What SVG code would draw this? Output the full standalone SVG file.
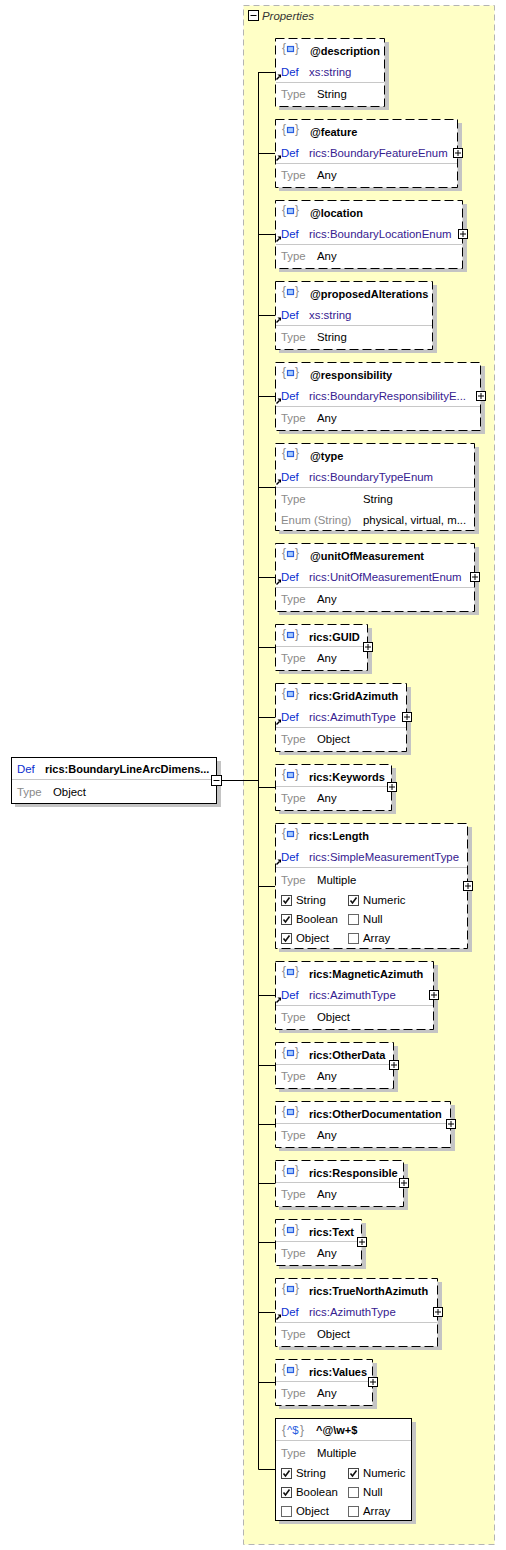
<svg xmlns="http://www.w3.org/2000/svg" xmlns:xlink="http://www.w3.org/1999/xlink" width="506" height="1550" viewBox="0 0 506 1550">
<style>
text{font-family:"Liberation Sans",Arial,sans-serif;font-size:11.4px;}
.t{font-weight:bold;fill:#000;font-size:11px;}
.lbl{fill:#0a2fd0;}
.dv{fill:#35208f;}
.gl{fill:#8a8a8a;}
.v{fill:#000;}
.sh{fill:#c4c4c4;}
.bx{fill:#fff;stroke:#000;stroke-width:1;stroke-dasharray:9,4;}
.bs{fill:#fff;stroke:#000;stroke-width:1;}
.sep{stroke:#c8c8c8;stroke-width:1;}
.con line,.con path{stroke:#000;stroke-width:1;fill:none;}
.brace{fill:#8a8a8a;font-size:12px;}
</style>
<defs>
<g id="ico">
<text class="brace" x="0" y="14">{</text>
<rect x="5.5" y="8.5" width="6" height="5" fill="#a8ccff" stroke="#2a5ee0" stroke-width="1.2"/>
<text class="brace" x="13" y="14">}</text>
</g>
<g id="arr">
<path d="M1.5 5.5 L4.5 2.5" stroke="#000" stroke-width="1.5"/>
<polygon points="2.5,0.5 6,0.5 6,4" fill="#000"/>
</g>
<g id="plus">
<rect x="0.5" y="0.5" width="9" height="9" fill="#fff" stroke="#000"/>
<path d="M2 5 H8 M5 2 V8" stroke="#000"/>
</g>
<g id="cbon">
<rect x="0.5" y="0.5" width="10" height="10" fill="#fff" stroke="#444"/>
<path d="M2.5 5.5 L4.5 8 L8.5 2.5" stroke="#111" stroke-width="1.6" fill="none"/>
</g>
<g id="cboff">
<rect x="0.5" y="0.5" width="10" height="10" fill="#fff" stroke="#666"/>
</g>
</defs>

<g id="properties">
<rect x="243.5" y="5.5" width="251" height="1539" fill="#ffffc6" stroke="#b4b4b4" stroke-dasharray="6,4"/>
<rect x="248.5" y="10.5" width="10" height="10" fill="#fff" stroke="#000"/>
<path d="M250.5 15.5 H256.5" stroke="#000"/>
<text x="262" y="20" font-style="italic" fill="#333">Properties</text>
</g>

<g id="connectors" class="con">
<line x1="222" y1="780.5" x2="258.5" y2="780.5"/>
<line x1="258.5" y1="72" x2="258.5" y2="1469.5"/>
<line x1="258.5" y1="72.5" x2="275" y2="72.5"/>
<line x1="258.5" y1="153.5" x2="275" y2="153.5"/>
<line x1="258.5" y1="234.5" x2="275" y2="234.5"/>
<line x1="258.5" y1="315.5" x2="275" y2="315.5"/>
<line x1="258.5" y1="396.5" x2="275" y2="396.5"/>
<line x1="258.5" y1="487.5" x2="275" y2="487.5"/>
<line x1="258.5" y1="577.5" x2="275" y2="577.5"/>
<line x1="258.5" y1="647.5" x2="275" y2="647.5"/>
<line x1="258.5" y1="717.5" x2="275" y2="717.5"/>
<line x1="258.5" y1="787.5" x2="275" y2="787.5"/>
<line x1="258.5" y1="886.5" x2="275" y2="886.5"/>
<line x1="258.5" y1="995.5" x2="275" y2="995.5"/>
<line x1="258.5" y1="1065.5" x2="275" y2="1065.5"/>
<line x1="258.5" y1="1124.5" x2="275" y2="1124.5"/>
<line x1="258.5" y1="1183.5" x2="275" y2="1183.5"/>
<line x1="258.5" y1="1242.5" x2="275" y2="1242.5"/>
<line x1="258.5" y1="1312.5" x2="275" y2="1312.5"/>
<line x1="258.5" y1="1382.5" x2="275" y2="1382.5"/>
<line x1="258.5" y1="1469.5" x2="275" y2="1469.5"/>
</g>

<g id="root">
<rect class="sh" x="15" y="761" width="206" height="46"/>
<rect class="bs" x="11.5" y="757.5" width="205" height="46"/>
<line class="sep" x1="12" y1="779.5" x2="216" y2="779.5"/>
<text class="lbl" x="17" y="773">Def</text>
<text class="t" x="45" y="773">rics:BoundaryLineArcDimens...</text>
<text class="gl" x="17" y="796">Type</text>
<text class="v" x="53" y="796">Object</text>
<rect x="211.5" y="775.5" width="10" height="10" fill="#fff" stroke="#000"/>
<path d="M213.5 780.5 H219.5" stroke="#000"/>
</g>

<g id="n-description">
<rect class="sh" x="279" y="42" width="110" height="68"/>
<rect class="bx" x="275.5" y="38.5" width="109" height="68"/>
<use xlink:href="#ico" x="282" y="38"/>
<text class="t" x="310" y="55">@description</text>
<use xlink:href="#arr" x="275" y="74"/>
<text class="lbl" x="281" y="76">Def</text>
<text class="dv" x="309" y="76">xs:string</text>
<line class="sep" x1="276" y1="82.5" x2="384" y2="82.5"/>
<text class="gl" x="281" y="98">Type</text>
<text class="v" x="317" y="98">String</text>
</g>

<g id="n-feature">
<rect class="sh" x="279" y="123" width="183" height="68"/>
<rect class="bx" x="275.5" y="119.5" width="182" height="68"/>
<use xlink:href="#ico" x="282" y="119"/>
<text class="t" x="310" y="136">@feature</text>
<use xlink:href="#arr" x="275" y="155"/>
<text class="lbl" x="281" y="157">Def</text>
<text class="dv" x="309" y="157">rics:BoundaryFeatureEnum</text>
<line class="sep" x1="276" y1="163.5" x2="457" y2="163.5"/>
<text class="gl" x="281" y="179">Type</text>
<text class="v" x="317" y="179">Any</text>
<use xlink:href="#plus" x="453" y="148"/>
</g>

<g id="n-location">
<rect class="sh" x="279" y="204" width="188" height="68"/>
<rect class="bx" x="275.5" y="200.5" width="187" height="68"/>
<use xlink:href="#ico" x="282" y="200"/>
<text class="t" x="310" y="217">@location</text>
<use xlink:href="#arr" x="275" y="236"/>
<text class="lbl" x="281" y="238">Def</text>
<text class="dv" x="309" y="238">rics:BoundaryLocationEnum</text>
<line class="sep" x1="276" y1="244.5" x2="462" y2="244.5"/>
<text class="gl" x="281" y="260">Type</text>
<text class="v" x="317" y="260">Any</text>
<use xlink:href="#plus" x="458" y="229"/>
</g>

<g id="n-proposedAlterations">
<rect class="sh" x="279" y="285" width="158" height="68"/>
<rect class="bx" x="275.5" y="281.5" width="157" height="68"/>
<use xlink:href="#ico" x="282" y="281"/>
<text class="t" x="310" y="298">@proposedAlterations</text>
<use xlink:href="#arr" x="275" y="317"/>
<text class="lbl" x="281" y="319">Def</text>
<text class="dv" x="309" y="319">xs:string</text>
<line class="sep" x1="276" y1="325.5" x2="432" y2="325.5"/>
<text class="gl" x="281" y="341">Type</text>
<text class="v" x="317" y="341">String</text>
</g>

<g id="n-responsibility">
<rect class="sh" x="279" y="366" width="206" height="68"/>
<rect class="bx" x="275.5" y="362.5" width="205" height="68"/>
<use xlink:href="#ico" x="282" y="362"/>
<text class="t" x="310" y="379">@responsibility</text>
<use xlink:href="#arr" x="275" y="398"/>
<text class="lbl" x="281" y="400">Def</text>
<text class="dv" x="309" y="400">rics:BoundaryResponsibilityE...</text>
<line class="sep" x1="276" y1="406.5" x2="480" y2="406.5"/>
<text class="gl" x="281" y="422">Type</text>
<text class="v" x="317" y="422">Any</text>
<use xlink:href="#plus" x="476" y="391"/>
</g>

<g id="n-type">
<rect class="sh" x="279" y="447" width="200" height="87"/>
<rect class="bx" x="275.5" y="443.5" width="199" height="87"/>
<use xlink:href="#ico" x="282" y="443"/>
<text class="t" x="310" y="460">@type</text>
<use xlink:href="#arr" x="275" y="479"/>
<text class="lbl" x="281" y="481">Def</text>
<text class="dv" x="309" y="481">rics:BoundaryTypeEnum</text>
<line class="sep" x1="276" y1="487.5" x2="474" y2="487.5"/>
<text class="gl" x="281" y="503">Type</text>
<text class="v" x="363" y="503">String</text>
<text class="gl" x="281" y="524">Enum (String)</text>
<text class="v" x="363" y="524">physical, virtual, m...</text>
</g>

<g id="n-unitOfMeasurement">
<rect class="sh" x="279" y="547" width="200" height="68"/>
<rect class="bx" x="275.5" y="543.5" width="199" height="68"/>
<use xlink:href="#ico" x="282" y="543"/>
<text class="t" x="310" y="560">@unitOfMeasurement</text>
<use xlink:href="#arr" x="275" y="579"/>
<text class="lbl" x="281" y="581">Def</text>
<text class="dv" x="309" y="581">rics:UnitOfMeasurementEnum</text>
<line class="sep" x1="276" y1="587.5" x2="474" y2="587.5"/>
<text class="gl" x="281" y="603">Type</text>
<text class="v" x="317" y="603">Any</text>
<use xlink:href="#plus" x="470" y="572"/>
</g>

<g id="n-GUID">
<rect class="sh" x="279" y="628" width="93" height="46"/>
<rect class="bx" x="275.5" y="624.5" width="92" height="46"/>
<use xlink:href="#ico" x="282" y="624"/>
<text class="t" x="309" y="641">rics:GUID</text>
<line class="sep" x1="276" y1="646.5" x2="367" y2="646.5"/>
<text class="gl" x="281" y="662">Type</text>
<text class="v" x="317" y="662">Any</text>
<use xlink:href="#plus" x="363" y="642"/>
</g>

<g id="n-GridAzimuth">
<rect class="sh" x="279" y="687" width="132" height="68"/>
<rect class="bx" x="275.5" y="683.5" width="131" height="68"/>
<use xlink:href="#ico" x="282" y="683"/>
<text class="t" x="309" y="700">rics:GridAzimuth</text>
<use xlink:href="#arr" x="275" y="719"/>
<text class="lbl" x="281" y="721">Def</text>
<text class="dv" x="309" y="721">rics:AzimuthType</text>
<line class="sep" x1="276" y1="727.5" x2="406" y2="727.5"/>
<text class="gl" x="281" y="743">Type</text>
<text class="v" x="317" y="743">Object</text>
<use xlink:href="#plus" x="402" y="712"/>
</g>

<g id="n-Keywords">
<rect class="sh" x="279" y="768" width="117" height="46"/>
<rect class="bx" x="275.5" y="764.5" width="116" height="46"/>
<use xlink:href="#ico" x="282" y="764"/>
<text class="t" x="309" y="781">rics:Keywords</text>
<line class="sep" x1="276" y1="786.5" x2="391" y2="786.5"/>
<text class="gl" x="281" y="802">Type</text>
<text class="v" x="317" y="802">Any</text>
<use xlink:href="#plus" x="387" y="782"/>
</g>

<g id="n-Length">
<rect class="sh" x="279" y="827" width="193" height="125"/>
<rect class="bx" x="275.5" y="823.5" width="192" height="125"/>
<use xlink:href="#ico" x="282" y="823"/>
<text class="t" x="309" y="840">rics:Length</text>
<use xlink:href="#arr" x="275" y="859"/>
<text class="lbl" x="281" y="861">Def</text>
<text class="dv" x="309" y="861">rics:SimpleMeasurementType</text>
<line class="sep" x1="276" y1="867.5" x2="467" y2="867.5"/>
<text class="gl" x="281" y="884">Type</text>
<text class="v" x="317" y="884">Multiple</text>
<use xlink:href="#cbon" x="281" y="895"/>
<text class="v" x="296" y="904">String</text>
<use xlink:href="#cbon" x="348" y="895"/>
<text class="v" x="363" y="904">Numeric</text>
<use xlink:href="#cbon" x="281" y="914"/>
<text class="v" x="296" y="923">Boolean</text>
<use xlink:href="#cboff" x="348" y="914"/>
<text class="v" x="363" y="923">Null</text>
<use xlink:href="#cbon" x="281" y="933"/>
<text class="v" x="296" y="942">Object</text>
<use xlink:href="#cboff" x="348" y="933"/>
<text class="v" x="363" y="942">Array</text>
<use xlink:href="#plus" x="463" y="881"/>
</g>

<g id="n-MagneticAzimuth">
<rect class="sh" x="279" y="965" width="159" height="68"/>
<rect class="bx" x="275.5" y="961.5" width="158" height="68"/>
<use xlink:href="#ico" x="282" y="961"/>
<text class="t" x="309" y="978">rics:MagneticAzimuth</text>
<use xlink:href="#arr" x="275" y="997"/>
<text class="lbl" x="281" y="999">Def</text>
<text class="dv" x="309" y="999">rics:AzimuthType</text>
<line class="sep" x1="276" y1="1005.5" x2="433" y2="1005.5"/>
<text class="gl" x="281" y="1021">Type</text>
<text class="v" x="317" y="1021">Object</text>
<use xlink:href="#plus" x="429" y="990"/>
</g>

<g id="n-OtherData">
<rect class="sh" x="279" y="1046" width="119" height="46"/>
<rect class="bx" x="275.5" y="1042.5" width="118" height="46"/>
<use xlink:href="#ico" x="282" y="1042"/>
<text class="t" x="309" y="1059">rics:OtherData</text>
<line class="sep" x1="276" y1="1064.5" x2="393" y2="1064.5"/>
<text class="gl" x="281" y="1080">Type</text>
<text class="v" x="317" y="1080">Any</text>
<use xlink:href="#plus" x="389" y="1060"/>
</g>

<g id="n-OtherDocumentation">
<rect class="sh" x="279" y="1105" width="176" height="46"/>
<rect class="bx" x="275.5" y="1101.5" width="175" height="46"/>
<use xlink:href="#ico" x="282" y="1101"/>
<text class="t" x="309" y="1118">rics:OtherDocumentation</text>
<line class="sep" x1="276" y1="1123.5" x2="450" y2="1123.5"/>
<text class="gl" x="281" y="1139">Type</text>
<text class="v" x="317" y="1139">Any</text>
<use xlink:href="#plus" x="446" y="1119"/>
</g>

<g id="n-Responsible">
<rect class="sh" x="279" y="1164" width="129" height="46"/>
<rect class="bx" x="275.5" y="1160.5" width="128" height="46"/>
<use xlink:href="#ico" x="282" y="1160"/>
<text class="t" x="309" y="1177">rics:Responsible</text>
<line class="sep" x1="276" y1="1182.5" x2="403" y2="1182.5"/>
<text class="gl" x="281" y="1198">Type</text>
<text class="v" x="317" y="1198">Any</text>
<use xlink:href="#plus" x="399" y="1178"/>
</g>

<g id="n-Text">
<rect class="sh" x="279" y="1223" width="87" height="46"/>
<rect class="bx" x="275.5" y="1219.5" width="86" height="46"/>
<use xlink:href="#ico" x="282" y="1219"/>
<text class="t" x="309" y="1236">rics:Text</text>
<line class="sep" x1="276" y1="1241.5" x2="361" y2="1241.5"/>
<text class="gl" x="281" y="1257">Type</text>
<text class="v" x="317" y="1257">Any</text>
<use xlink:href="#plus" x="357" y="1237"/>
</g>

<g id="n-TrueNorthAzimuth">
<rect class="sh" x="279" y="1282" width="163" height="68"/>
<rect class="bx" x="275.5" y="1278.5" width="162" height="68"/>
<use xlink:href="#ico" x="282" y="1278"/>
<text class="t" x="309" y="1295">rics:TrueNorthAzimuth</text>
<use xlink:href="#arr" x="275" y="1314"/>
<text class="lbl" x="281" y="1316">Def</text>
<text class="dv" x="309" y="1316">rics:AzimuthType</text>
<line class="sep" x1="276" y1="1322.5" x2="437" y2="1322.5"/>
<text class="gl" x="281" y="1338">Type</text>
<text class="v" x="317" y="1338">Object</text>
<use xlink:href="#plus" x="433" y="1307"/>
</g>

<g id="n-Values">
<rect class="sh" x="279" y="1363" width="98" height="46"/>
<rect class="bx" x="275.5" y="1359.5" width="97" height="46"/>
<use xlink:href="#ico" x="282" y="1359"/>
<text class="t" x="309" y="1376">rics:Values</text>
<line class="sep" x1="276" y1="1381.5" x2="372" y2="1381.5"/>
<text class="gl" x="281" y="1397">Type</text>
<text class="v" x="317" y="1397">Any</text>
<use xlink:href="#plus" x="368" y="1377"/>
</g>

<g id="n-pattern">
<rect class="sh" x="279" y="1422" width="137" height="102"/>
<rect class="bs" x="275.5" y="1418.5" width="136" height="102"/>
<text class="brace" x="282" y="1434">{</text>
<text x="287" y="1434" fill="#2a5ee0">^$</text>
<text class="brace" x="300" y="1434">}</text>
<text class="t" x="316" y="1434">^@\w+$</text>
<line class="sep" x1="276" y1="1440.5" x2="411" y2="1440.5"/>
<text class="gl" x="281" y="1457">Type</text>
<text class="v" x="317" y="1457">Multiple</text>
<use xlink:href="#cbon" x="281" y="1468"/>
<text class="v" x="296" y="1477">String</text>
<use xlink:href="#cbon" x="348" y="1468"/>
<text class="v" x="363" y="1477">Numeric</text>
<use xlink:href="#cbon" x="281" y="1487"/>
<text class="v" x="296" y="1496">Boolean</text>
<use xlink:href="#cboff" x="348" y="1487"/>
<text class="v" x="363" y="1496">Null</text>
<use xlink:href="#cboff" x="281" y="1506"/>
<text class="v" x="296" y="1515">Object</text>
<use xlink:href="#cboff" x="348" y="1506"/>
<text class="v" x="363" y="1515">Array</text>
</g>
</svg>
